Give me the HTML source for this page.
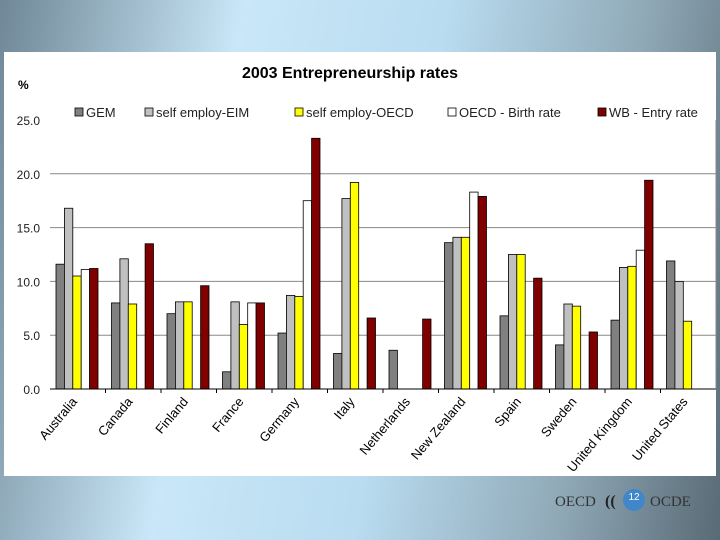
<!DOCTYPE html>
<html><head><meta charset="utf-8"><style>
body{margin:0;width:720px;height:540px;overflow:hidden;font-family:"Liberation Sans",sans-serif;}
#bg{position:absolute;left:0;top:0;width:720px;height:540px;background:linear-gradient(100deg,#6f8796 0%,#c9e7f8 30%,#b9dcf0 55%,#8fa8b6 80%,#586a75 100%);}
</style></head><body>
<div id="bg"></div>
<svg id="c" width="720" height="540" style="position:absolute;left:0;top:0">
<rect x="4" y="52" width="712" height="424" fill="#fff"/>
<text x="350" y="78" text-anchor="middle" font-weight="bold" font-size="16">2003 Entrepreneurship rates</text>
<text x="18" y="89" font-weight="bold" font-size="12">%</text>
<g id="grid"></g><g id="bars"></g><g id="axis"></g><g id="legend"></g>
<text x="555" y="506" font-family="Liberation Serif" font-size="15" fill="#333">OECD</text>
<text x="605" y="506" font-family="Liberation Serif" font-size="16" font-weight="bold" fill="#222">((</text>
<circle cx="634" cy="500" r="11" fill="#3f87c8"/>
<text x="634" y="500" text-anchor="middle" font-size="10" fill="#fff">12</text>
<text x="650" y="506" font-family="Liberation Serif" font-size="15" fill="#333">OCDE</text>
</svg>
<script>
const categories=["Australia","Canada","Finland","France","Germany","Italy","Netherlands","New Zealand","Spain","Sweden","United Kingdom","United States"];
const seriesNames=["GEM","self employ-EIM","self employ-OECD","OECD - Birth rate","WB - Entry rate"];
const gem=[11.6,8.0,7.0,1.6,5.2,3.3,3.6,13.6,6.8,4.1,6.4,11.9];
const eim=[16.8,12.1,8.1,8.1,8.7,17.7,null,14.1,12.5,7.9,11.3,10.0];
const oecd=[10.5,7.9,8.1,6.0,8.6,19.2,null,14.1,12.5,7.7,11.4,6.3];
const birth=[11.1,null,null,8.0,17.5,null,null,18.3,null,null,12.9,null];
const wb=[11.2,13.5,9.6,8.0,23.3,6.6,6.5,17.9,10.3,5.3,19.4,null];
const yTicks=[0,5,10,15,20,25];
const colors=["#808080","#c0c0c0","#ffff00","#ffffff","#800000"];
const series=[gem,eim,oecd,birth,wb];
const NS="http://www.w3.org/2000/svg";
const x0=50,x1=716,y0=389,yTop=120,yMax=25;
const cw=(x1-x0)/categories.length;
const y=v=>y0-(v/yMax)*(y0-yTop);
const xc=i=>x0+i*cw;
function mk(t,a,p){const e=document.createElementNS(NS,t);for(const k in a)e.setAttribute(k,a[k]);document.getElementById(p).appendChild(e);return e;}
yTicks.forEach(t=>{
 if(t>0&&t<25){const l=mk('line',{x1:x0,x2:x1,y1:y(t),y2:y(t),stroke:'#888','stroke-width':1},'grid');
 
 }
 const tx=mk('text',{x:40,y:y(t)+5,'text-anchor':'end','font-size':12,fill:'#222'},'axis');tx.textContent=t.toFixed(1);
 
 
});
const bw=8.4;
series.forEach((s,si)=>s.forEach((v,i)=>{
 if(v==null)return;
 const r=mk('rect',{x:xc(i)+6+si*bw,y:y(v),width:bw,height:y0-y(v),fill:colors[si],stroke:'#000','stroke-width':0.8},'bars');
 
 
}));
const ax=mk('line',{x1:x0,x2:x1,y1:y0,y2:y0,stroke:'#000'},'axis');


const yl=mk('line',{x1:x1,x2:x1,y1:120,y2:y0,stroke:'#888'},'axis');


categories.forEach((c,i)=>{
 if(i>0){const tk=mk('line',{x1:xc(i),x2:xc(i),y1:y0,y2:y0+4,stroke:'#000'},'axis');
 
 }
 const cx=xc(i)+cw/2, cy=402;
 const t=mk('text',{x:cx,y:cy,'text-anchor':'end','font-size':13,transform:`rotate(-50 ${cx} ${cy})`},'axis');t.textContent=c;
 
 
});
const lx=[75,145,295,448,598];
seriesNames.forEach((n,i)=>{
 const r=mk('rect',{x:lx[i],y:108,width:8,height:8,fill:colors[i],stroke:'#000','stroke-width':0.8},'legend');
 
 
 const t=mk('text',{x:lx[i]+11,y:117,'font-size':13,fill:'#222'},'legend');t.textContent=n;
 
 
});
</script>
</body></html>
